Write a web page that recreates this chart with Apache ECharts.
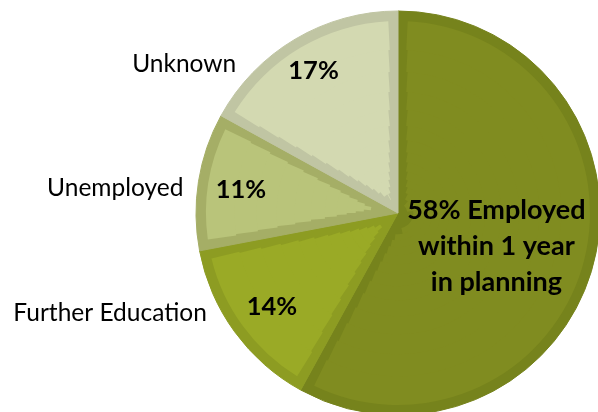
<!DOCTYPE html>
<html>
<head>
<meta charset="utf-8">
<script src="https://cdn.jsdelivr.net/npm/echarts@6/dist/echarts.min.js"></script>
<style>
html,body{margin:0;padding:0;background:#fff;}
#c{width:598px;height:412px;}
</style>
</head>
<body>
<div id="c"></div>
<script>
// ---- data ----
const categories = ['Employed within 1 year in planning', 'Further Education', 'Unemployed', 'Unknown'];
const values = [58, 14, 11, 17];
const outerNames = ['', 'Further Education', 'Unemployed', 'Unknown'];
const employedText = ['Employed', 'within 1 year', 'in planning'];

// ---- styles / layout ----
const fillColors = ['#808c20', '#9aaa26', '#b9c47a', '#d3d9b1'];
const borderColors = ['#76831c', '#8d9c22', '#a5ae66', '#c0c5a3'];
const labelNudge = [[0, 0], [-12, -16], [0, 6], [-42, 22]];
const pctNudge = [[0, 0], [5, -1], [3, 2], [-2, -3]];
const CX = 398, CY = 213;
const R_OUT = 202;          // outer edge of pie (dark rim)
const R_LABEL = 193;        // radius used for label placement
const SEAM = 18;            // total dark band width across a seam (9px each side)
// concentric rings used to approximate a constant-width inner rim
const ringEdges = [10, 16, 22, 28, 35, 43, 52, 62, 74, 88, 104, 122, 142, 164, 192];

const chart = echarts.init(document.getElementById('c'));

const transparent = 'rgba(0,0,0,0)';

const series = [];

// dark rim: full sectors
series.push({
  type: 'pie', center: [CX, CY], radius: R_OUT, startAngle: 90, clockwise: true,
  silent: true, label: { show: false }, labelLine: { show: false },
  data: categories.map((name, i) => ({
    name: name, value: values[i],
    itemStyle: { color: borderColors[i], borderColor: borderColors[i], borderWidth: 1 }
  }))
});

// light inner fills, built as rings with a gap that keeps a constant width
for (let k = 0; k < ringEdges.length - 1; k++) {
  const r0 = ringEdges[k], r1 = ringEdges[k + 1];
  const mid = (r0 + r1) / 2;
  const last = k === ringEdges.length - 2;
  series.push({
    type: 'pie', center: [CX, CY],
    radius: [Math.max(0, r0 - 0.7), last ? r1 : r1 + 0.7],
    startAngle: 90, clockwise: true,
    padAngle: SEAM / mid * 180 / Math.PI,
    silent: true, label: { show: false }, labelLine: { show: false },
    data: categories.map((name, i) => ({
      name: name, value: values[i],
      itemStyle: { color: fillColors[i], borderWidth: 0 }
    }))
  });
}

// names + main label
series.push({
  type: 'pie', center: [CX, CY], radius: R_LABEL, startAngle: 90, clockwise: true,
  silent: true, avoidLabelOverlap: false,
  labelLine: { show: false, length: 5, length2: 14 },
  data: categories.map((name, i) => {
    const item = { name: name, value: values[i],
      itemStyle: { color: transparent, borderWidth: 0 } };
    if (i === 0) {
      item.label = {
        show: true, position: 'inside',
        formatter: values[i] + '% ' + employedText.join('\n'),
        fontFamily: 'Lato', fontWeight: 'bold', fontSize: 27, lineHeight: 36,
        color: '#000', align: 'center', offset: [2, 9]
      };
    } else {
      item.label = {
        show: true, position: 'outside',
        formatter: outerNames[i],
        fontFamily: 'Lato', fontWeight: 'normal', fontSize: 24.5,
        color: '#000'
      };
      item.labelLine = { show: false };
    }
    return item;
  }),
  labelLayout: function (p) {
    const n = labelNudge[p.dataIndex];
    return { dx: n[0], dy: n[1] };
  }
});

// percentage labels for the smaller slices
series.push({
  type: 'pie', center: [CX, CY], radius: [128, 190], startAngle: 90, clockwise: true,
  silent: true, avoidLabelOverlap: false,
  itemStyle: { color: transparent, borderWidth: 0 },
  label: {
    position: 'inside',
    formatter: function (p) { return p.value + '%'; },
    fontFamily: 'Lato', fontWeight: 'bold', fontSize: 25.5, color: '#000'
  },
  labelLine: { show: false },
  data: categories.map((name, i) => ({ name: name, value: values[i], label: { show: i !== 0 } })),
  labelLayout: function (p) {
    const n = pctNudge[p.dataIndex];
    return { dx: n[0], dy: n[1] };
  }
});

chart.setOption({
  animation: false,
  backgroundColor: '#ffffff',
  series: series
});
</script>
</body>
</html>
